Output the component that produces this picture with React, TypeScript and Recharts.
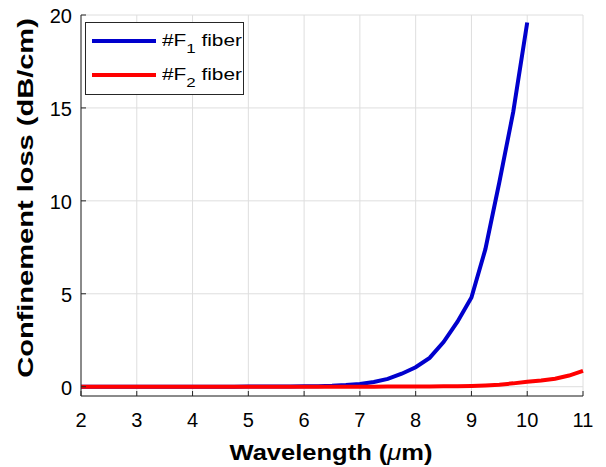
import { LineChart, Line, XAxis, YAxis, CartesianGrid, Legend } from "recharts";

// wavelength (um) and confinement loss (dB/cm)
const wavelength = [
  2, 2.25, 2.5, 2.75, 3, 3.25, 3.5, 3.75, 4, 4.25, 4.5, 4.75, 5, 5.25, 5.5, 5.75,
  6, 6.25, 6.5, 6.75, 7, 7.25, 7.5, 7.75, 8, 8.25, 8.5, 8.75, 9, 9.25, 9.5, 9.75,
  10, 10.25, 10.5, 10.75, 11,
];
const lossF1 = [
  0, 0, 0, 0, 0, 0, 0, 0, 0, 0, 0, 0, 0.005, 0.008, 0.01, 0.015,
  0.02, 0.03, 0.05, 0.09, 0.15, 0.25, 0.42, 0.7, 1.05, 1.55, 2.4, 3.5, 4.8, 7.4, 11.0, 14.8,
  19.6, null, null, null, null,
];
const lossF2 = [
  0, 0, 0, 0, 0, 0, 0, 0, 0, 0, 0, 0, 0, 0, 0, 0,
  0, 0, 0, 0, 0.002, 0.003, 0.005, 0.007, 0.01, 0.013, 0.018, 0.025, 0.04, 0.07, 0.11, 0.18,
  0.27, 0.34, 0.43, 0.6, 0.85,
];
const xTicks = [2, 3, 4, 5, 6, 7, 8, 9, 10, 11];
const yTicks = [0, 5, 10, 15, 20];
const seriesNames = [
  { key: "f1", prefix: "#F", sub: "1", suffix: " fiber" },
  { key: "f2", prefix: "#F", sub: "2", suffix: " fiber" },
];

const data = wavelength.map((w, i) => ({ w, f1: lossF1[i], f2: lossF2[i] }));

const FONT = "'Liberation Sans', Arial, Helvetica, sans-serif";
const AXIS = "#262626";
const TICK_LEN = 5;

const BottomTick = (props: any) => {
  const { x, y, payload } = props;
  return (
    <g>
      <line x1={x} y1={y} x2={x} y2={y - TICK_LEN} stroke={AXIS} />
      <text x={x} y={y + 31} textAnchor="middle" fontSize={20} fill="#000" fontFamily={FONT}>
        {payload.value}
      </text>
    </g>
  );
};

const TopTick = (props: any) => {
  const { x, y } = props;
  return <line x1={x} y1={y} x2={x} y2={y + TICK_LEN} stroke={AXIS} />;
};

const LeftTick = (props: any) => {
  const { x, y, payload } = props;
  return (
    <g>
      <line x1={x} y1={y} x2={x + TICK_LEN} y2={y} stroke={AXIS} />
      <text x={x - 9} y={y + 8} textAnchor="end" fontSize={20} fill="#000" fontFamily={FONT}>
        {payload.value}
      </text>
    </g>
  );
};

const RightTick = (props: any) => {
  const { x, y } = props;
  return <line x1={x} y1={y} x2={x - TICK_LEN} y2={y} stroke={AXIS} />;
};

const LegendBox = (props: any) => {
  const payload = props.payload || [];
  return (
    <div
      style={{
        width: 159,
        height: 73,
        boxSizing: "border-box",
        border: `1px solid ${AXIS}`,
        background: "#fff",
        paddingTop: 1,
        fontFamily: FONT,
        fontSize: 16,
        color: "#000",
      }}
    >
      {seriesNames.map((s) => {
        const entry = payload.find((p: any) => p.dataKey === s.key);
        return (
          <div key={s.key} style={{ height: 34, display: "flex", alignItems: "center" }}>
            <svg width={76} height={8} style={{ flex: "none" }}>
              <line x1={6} y1={4} x2={70} y2={4} stroke={entry ? entry.color : "#000"} strokeWidth={4} />
            </svg>
            <span
              style={{
                whiteSpace: "pre",
                lineHeight: 1,
                display: "inline-block",
                transform: "scaleX(1.3)",
                transformOrigin: "left center",
              }}
            >
              {s.prefix}
              <span style={{ fontSize: 13, position: "relative", top: 7 }}>{s.sub}</span>
              {s.suffix}
            </span>
          </div>
        );
      })}
    </div>
  );
};

export default function App() {
  return (
    <div style={{ position: "absolute", left: 0, top: 0, background: "#fff" }}>
      <LineChart width={606} height={467} data={data} margin={{ top: 15, right: 23, left: 0, bottom: 0 }}>
        <CartesianGrid xAxisId="b" yAxisId="l" stroke="#dedede" strokeWidth={1} />
        <XAxis
          xAxisId="b"
          dataKey="w"
          type="number"
          domain={[2, 11]}
          ticks={xTicks}
          interval={0}
          height={71}
          tickSize={0}
          tickMargin={0}
          tickLine={false}
          axisLine={{ stroke: AXIS }}
          tick={<BottomTick />}
          label={{
            content: () => (
              <text
                transform="translate(331 460) scale(1.16 1)"
                x={0}
                y={0}
                textAnchor="middle"
                fontFamily={FONT}
                fontSize={22}
                fontWeight="bold"
                fill="#000"
              >
                <tspan>Wavelength (</tspan>
                <tspan fontStyle="italic" fontWeight="normal">μ</tspan>
                <tspan>m)</tspan>
              </text>
            ),
          }}
        />
        <XAxis
          xAxisId="t"
          dataKey="w"
          type="number"
          orientation="top"
          domain={[2, 11]}
          ticks={xTicks}
          interval={0}
          height={0}
          tickSize={0}
          tickMargin={0}
          tickLine={false}
          axisLine={{ stroke: AXIS }}
          tick={<TopTick />}
        />
        <YAxis
          yAxisId="l"
          type="number"
          domain={[-0.5, 20]}
          ticks={yTicks}
          interval={0}
          width={81}
          tickSize={0}
          tickMargin={0}
          tickLine={false}
          axisLine={{ stroke: AXIS }}
          tick={<LeftTick />}
          allowDataOverflow
          label={{
            content: () => (
              <text
                transform="translate(33 198) rotate(-90) scale(1.32 1)"
                x={0}
                y={0}
                textAnchor="middle"
                fontFamily={FONT}
                fontSize={22}
                fontWeight="bold"
                fill="#000"
              >
                Confinement loss (dB/cm)
              </text>
            ),
          }}
        />
        <YAxis
          yAxisId="r"
          orientation="right"
          type="number"
          domain={[-0.5, 20]}
          ticks={yTicks}
          interval={0}
          width={0}
          tickSize={0}
          tickMargin={0}
          tickLine={false}
          axisLine={{ stroke: AXIS }}
          tick={<RightTick />}
          allowDataOverflow
        />
        <Legend
          layout="vertical"
          align="center"
          verticalAlign="middle"
          wrapperStyle={{ left: 85, top: 22, width: "auto", height: "auto" }}
          content={<LegendBox />}
        />
        <Line
          xAxisId="b"
          yAxisId="l"
          dataKey="f1"
          name="#F1 fiber"
          stroke="#0000cd"
          strokeWidth={4}
          dot={false}
          isAnimationActive={false}
        />
        <Line
          xAxisId="b"
          yAxisId="l"
          dataKey="f2"
          name="#F2 fiber"
          stroke="#ff0000"
          strokeWidth={4}
          dot={false}
          isAnimationActive={false}
        />
      </LineChart>
    </div>
  );
}
